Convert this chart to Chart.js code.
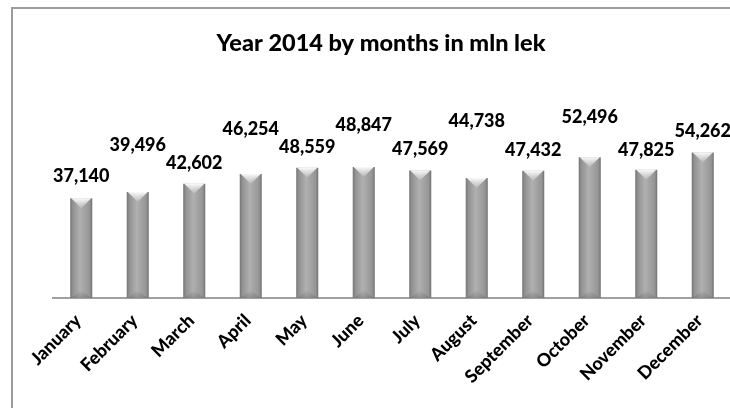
<!DOCTYPE html>
<html>
<head>
<meta charset="utf-8">
<script src="https://cdn.jsdelivr.net/npm/chart.js@4.4.0/dist/chart.umd.min.js"></script>
<style>
html, body { margin: 0; padding: 0; background: #fff; overflow: hidden; }
#frame { position: absolute; left: 11px; top: 7px; width: 740px; height: 420px;
         border-left: 2px solid #9c9c9c; border-top: 2px solid #9c9c9c; }
#wrap { position: absolute; left: 0; top: 0; width: 733px; height: 408px; }
</style>
</head>
<body>
<div id="frame"></div>
<div id="wrap"><canvas id="chart" width="733" height="408"></canvas></div>
<script>
const months = ['January', 'February', 'March', 'April', 'May', 'June',
                'July', 'August', 'September', 'October', 'November', 'December'];
const values = [37140, 39496, 42602, 46254, 48559, 48847, 47569, 44738, 47432, 52496, 47825, 54262];
const titleText = 'Year 2014 by months in mln lek';

// how far (px) each value label sits above its bar top, labels are staggered
const labelLift = [22, 47, 21, 45, 21, 42, 21, 57, 21, 40, 20, 21];

const FONT = 'Lato, "Open Sans", sans-serif';

function barFill(context) {
    const chart = context.chart;
    const xs = chart.scales.x;
    if (!chart.chartArea || !xs) return '#a3a3a3';
    const cx = xs.getPixelForValue(context.dataIndex);
    const half = xs.width / months.length * 0.39 / 2;
    const g = chart.ctx.createLinearGradient(cx - half, 0, cx + half, 0);
    g.addColorStop(0, '#747474');
    g.addColorStop(0.12, '#929292');
    g.addColorStop(0.45, '#b0b0b0');
    g.addColorStop(0.88, '#959595');
    g.addColorStop(1, '#717171');
    return g;
}

// light bevel at the top of each bar, a darker one at the foot
const barBevel = {
    id: 'barBevel',
    afterDatasetsDraw(chart) {
        const ctx = chart.ctx;
        ctx.save();
        chart.getDatasetMeta(0).data.forEach(bar => {
            const w = bar.width, l = bar.x - w / 2, r = bar.x + w / 2;
            let g = ctx.createLinearGradient(0, bar.y, 0, bar.y + 10);
            g.addColorStop(0, 'rgba(255,255,255,0.95)');
            g.addColorStop(1, 'rgba(255,255,255,0.1)');
            ctx.fillStyle = g;
            ctx.beginPath();
            ctx.moveTo(l + 1, bar.y);
            ctx.lineTo(r - 1, bar.y);
            ctx.lineTo(bar.x, bar.y + 10);
            ctx.closePath();
            ctx.fill();

            g = ctx.createLinearGradient(0, bar.base, 0, bar.base - 8);
            g.addColorStop(0, 'rgba(90,90,90,0.35)');
            g.addColorStop(1, 'rgba(90,90,90,0)');
            ctx.fillStyle = g;
            ctx.beginPath();
            ctx.moveTo(l + 1, bar.base);
            ctx.lineTo(r - 1, bar.base);
            ctx.lineTo(bar.x, bar.base - 8);
            ctx.closePath();
            ctx.fill();
        });
        ctx.restore();
    }
};

const valueLabels = {
    id: 'valueLabels',
    afterDatasetsDraw(chart) {
        const ctx = chart.ctx;
        ctx.save();
        ctx.font = '900 18px ' + FONT;
        ctx.fillStyle = '#000';
        ctx.textAlign = 'center';
        ctx.textBaseline = 'middle';
        chart.getDatasetMeta(0).data.forEach((bar, i) => {
            ctx.fillText(values[i].toLocaleString('en-US'), bar.x, bar.y - labelLift[i]);
        });
        ctx.restore();
    }
};

new Chart(document.getElementById('chart'), {
    type: 'bar',
    data: {
        labels: months,
        datasets: [{
            data: values,
            backgroundColor: barFill,
            borderWidth: 0,
            categoryPercentage: 1,
            barPercentage: 0.39
        }]
    },
    options: {
        responsive: false,
        animation: false,
        devicePixelRatio: 1,
        layout: { padding: { left: 31, right: 2, top: 29, bottom: 0 } },
        plugins: {
            legend: { display: false },
            tooltip: { enabled: false },
            title: {
                display: true,
                text: titleText,
                color: '#000',
                font: { family: FONT, size: 23.5, weight: '900' },
                padding: { top: 0, bottom: 53 }
            }
        },
        scales: {
            x: {
                grid: { display: false },
                border: { display: true, color: '#a0a0a0', width: 2 },
                ticks: {
                    color: '#000',
                    font: { family: FONT, size: 18, weight: '900' },
                    minRotation: 45,
                    maxRotation: 45,
                    autoSkip: false,
                    padding: 4,
                    labelOffset: -3
                },
                afterFit(scale) { scale.height = 110; }
            },
            y: {
                min: 0,
                max: 70000,
                grid: { display: false },
                border: { display: false },
                ticks: { display: false },
                afterFit(scale) { scale.width = 22; }
            }
        }
    },
    plugins: [barBevel, valueLabels]
});
</script>
</body>
</html>
